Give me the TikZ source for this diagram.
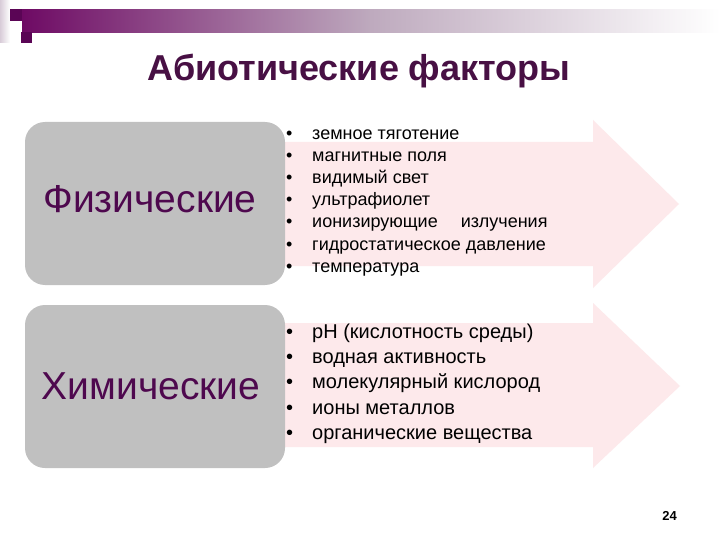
\documentclass[tikz,border=0pt]{standalone}
\usepackage{fontspec}
\setmainfont{Liberation Sans}
\definecolor{topP}{RGB}{110,10,100}
\definecolor{midP}{RGB}{190,170,190}
\definecolor{darkP}{RGB}{90,5,85}
\definecolor{titleC}{RGB}{72,16,68}
\definecolor{labelC}{RGB}{78,8,78}
\definecolor{boxgrey}{RGB}{192,192,192}
\definecolor{arrowpink}{RGB}{253,233,235}
\tikzset{
  catbox/.style={fill=boxgrey, rounded corners=20pt, minimum width=260pt, minimum height=163pt, inner sep=0pt},
  catlabel/.style={text=labelC, font=\fontsize{39}{42}\selectfont, inner sep=0pt},
  bulA/.style={anchor=base west, inner sep=0pt, font=\fontsize{18}{20}\selectfont},
  bulB/.style={anchor=base west, inner sep=0pt, font=\fontsize{20}{22}\selectfont},
}
\begin{document}
\begin{tikzpicture}[x=1pt,y=-1pt]
\useasboundingbox (0,0) rectangle (720,540);
\fill[white] (0,0) rectangle (720,540);
% top decoration
\shade[left color=topP, right color=white, middle color=midP] (22,10) rectangle (720,33);
\shade[left color=midP!60, right color=white] (0,0) rectangle (10,43);
\fill[white] (10,0) rectangle (33,9);
\fill[darkP] (10,9) rectangle (22,21);
\fill[darkP] (21,32) rectangle (32,43);
% title
\node[anchor=base, text=titleC, font=\bfseries\fontsize{36}{40}\selectfont, inner sep=0pt] (title) at (359,81) {Абиотические факторы};
% arrows
\fill[arrowpink] (282,142) -- (593,142) -- (593,120) -- (679,204) -- (593,288) -- (593,266) -- (282,266) -- cycle;
\fill[arrowpink] (282,323) -- (593,323) -- (593,303) -- (680,386) -- (593,468) -- (593,447) -- (282,447) -- cycle;
% category boxes
\node[catbox] (physbox) at (155,203.5) {};
\node[catlabel, anchor=base] (physlbl) at (150,213) {Физические};
\node[catbox] (chembox) at (155,386.5) {};
\node[catlabel, anchor=base] (chemlbl) at (151,399) {Химические};
% list 1
\foreach \t [count=\i] in {земное тяготение, магнитные поля, видимый свет, ультрафиолет, ионизирующие\hspace{18pt} излучения, гидростатическое давление, температура}{
  \node[bulA] (pb\i) at (286,{140+22*(\i-1)}) {•};
  \node[bulA] (pt\i) at (312,{140+22*(\i-1)}) {\t};
}
% list 2
\foreach \t [count=\i] in {pH (кислотность среды), водная активность, молекулярный кислород, ионы металлов, органические вещества}{
  \node[bulB] (cb\i) at (286,{338+25.4*(\i-1)}) {•};
  \node[bulB] (ct\i) at (312,{338+25.4*(\i-1)}) {\t};
}
% page number
\node[anchor=base, font=\bfseries\fontsize{13}{15}\selectfont, inner sep=0pt] (pnum) at (669.5,520) {24};
\end{tikzpicture}
\end{document}
